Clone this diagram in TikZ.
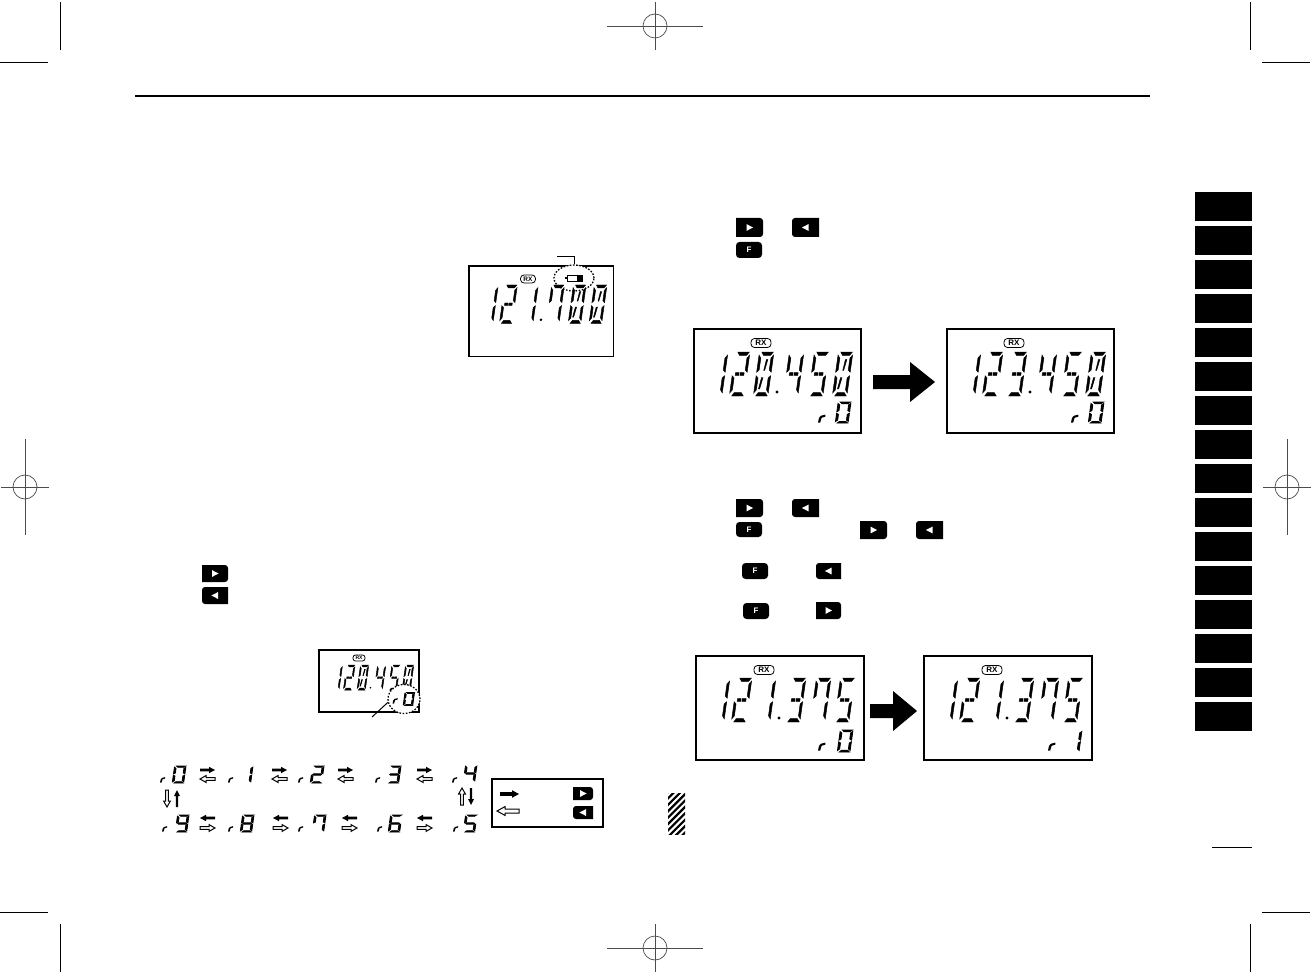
\documentclass[tikz,border=0pt]{standalone}
\usepackage{fontspec}
\setmainfont{Liberation Sans}
\usetikzlibrary{shapes.geometric}
\tikzset{
  lcdseg/.style={fill=black,draw=none},
  boldseg/.style={draw=black,line width=.85pt},
  dispseg/.style={draw=black,line width=.45pt},
  lcdframe/.style={draw=black,line width=1.5pt,inner sep=0pt,outer sep=0pt,anchor=north west,fill=white},
  rxbadge/.style={draw=black,line width=.8pt,rounded corners=3.5pt,inner sep=0pt,font=\bfseries\fontsize{8}{8}\selectfont},
  keylabel/.style={text=white,inner sep=0pt,font=\bfseries\fontsize{8}{8}\selectfont},
  blackarrow/.style={fill=black,draw=none},
  whitearrow/.style={fill=white,draw=black,line width=1pt},
  crop/.style={draw=black,line width=.9pt},
  regline/.style={draw=black!70,line width=.7pt},
  dotring/.style={ellipse,draw=black,fill=white,line width=1.3pt,dash pattern=on 1.6pt off 1.6pt,inner sep=0pt}
}
\newcommand\lcdsega{(1.8,0)--(9.6,0)--(8,1.5)--(3.2,1.5)--cycle}
\newcommand\lcdsegf{(0.2,1.4)--(1.7,2.8)--(1.7,8.2)--(0.2,9.2)--cycle}
\newcommand\lcdsegb{(10,1.4)--(10,9.2)--(8.5,8.2)--(8.5,2.8)--cycle}
\newcommand\lcdsege{(0.2,10.8)--(1.7,11.8)--(1.7,17.2)--(0.2,18.6)--cycle}
\newcommand\lcdsegc{(10,10.8)--(10,18.6)--(8.5,17.2)--(8.5,11.8)--cycle}
\newcommand\lcdsegd{(3.2,18.5)--(8,18.5)--(9.6,20)--(1.8,20)--cycle}
\newcommand\lcdsegg{(2,9.2)--(8.2,9.2)--(8.8,10)--(8.2,10.8)--(2,10.8)--(1.4,10)--cycle}
\newcommand\lcdsegh{(2.2,9.4)--(4.6,9.4)--(4.6,10.6)--(2.2,10.6)--cycle}
\newcommand\lcdsegi{(5.4,9.4)--(8,9.4)--(8,10.6)--(5.4,10.6)--cycle}
\newcommand\lcdsegj{(5.6,3.4)--(6.6,3.4)--(5.4,8.4)--(4.8,8.4)--cycle}
\newcommand\lcdsegk{(4,11.6)--(5,11.6)--(3.8,16.8)--(3,16.8)--cycle}
% \lcd[opts]{left}{top}{width}{height}{segments}
\newcommand\lcd[6][]{%
  \pgfmathsetmacro\lcdsx{(#4-0.14*#5)/10}%
  \pgfmathsetmacro\lcdsy{#5/20}%
  \pgfmathsetmacro\lcdox{#2+0.14*#5}%
  \begin{scope}[shift={(\lcdox,#3)},xslant=0.14,xscale=\lcdsx,yscale=\lcdsy]
    \foreach \lcdname in {#6}{%
      \expandafter\let\expandafter\lcdtmp\csname lcdseg\lcdname\endcsname
      \path[lcdseg,#1] \lcdtmp;}
  \end{scope}}
% \lcdfreq{left}{top}{scale}{d3}{d4}{d5}{d6}, the first two digits are always 1 and 2
\newcommand\lcdfreq[7]{%
  \begin{scope}[shift={(#1,#2)}]
    \lcd[dispseg]{0}{0}{21*#3}{44*#3}{b,c}
    \lcd[dispseg]{22*#3}{0}{21*#3}{44*#3}{a,b,h,i,e,d}
    \lcd[dispseg]{46*#3}{0}{21*#3}{44*#3}{#4}
    \fill ({70*#3},{40*#3}) circle ({1.6*#3});
    \lcd[dispseg]{76*#3}{0}{21*#3}{44*#3}{#5}
    \lcd[dispseg]{101*#3}{0}{21*#3}{44*#3}{#6}
    \lcd[dispseg]{125*#3}{0}{21*#3}{44*#3}{#7}
  \end{scope}}
\newcommand\lcdr[3]{%
  \begin{scope}[shift={(#1,#2)},scale=#3]
    \fill (0,9.5)--(1,5)--(2.8,2.8)--(7.4,1.6)--(7.4,3.6)--(3.6,4.8)--(2.2,9.5)--cycle;
  \end{scope}}
% \blockarrow{style}{x}{y}{rotation}{length}{shaft half}{head half}{head length}
\newcommand\blockarrow[8]{%
  \begin{scope}[shift={(#2,#3)},rotate=#4]
    \path[#1] (0,-#6)--({#5-#8},-#6)--({#5-#8},-#7)--(#5,0)--({#5-#8},#7)--({#5-#8},#6)--(0,#6)--cycle;
  \end{scope}}
\newcommand\lcdbox[5]{\node[lcdframe,minimum width={#4-#2},minimum height={#5-#3}] (#1) at (#2,#3) {};}
\newcommand\keyright[4]{%
  \fill ({#1},{#2}) -- ({(#1+#3)/2},{#2}) [rounded corners=3pt] -- ({#3},{#2}) -- ({#3},{#4}) -- ({(#1+#3)/2},{#4}) [sharp corners] -- ({#1},{#4}) -- cycle;
  \fill[white] ({(#1+#3)/2-3},{(#2+#4)/2-3.4}) -- ({(#1+#3)/2+3.6},{(#2+#4)/2}) -- ({(#1+#3)/2-3},{(#2+#4)/2+3.4}) -- cycle;}
\newcommand\keyleft[4]{%
  \fill ({#3},{#2}) -- ({(#1+#3)/2},{#2}) [rounded corners=3pt] -- ({#1},{#2}) -- ({#1},{#4}) -- ({(#1+#3)/2},{#4}) [sharp corners] -- ({#3},{#4}) -- cycle;
  \fill[white] ({(#1+#3)/2+3},{(#2+#4)/2-3.4}) -- ({(#1+#3)/2-3.6},{(#2+#4)/2}) -- ({(#1+#3)/2+3},{(#2+#4)/2+3.4}) -- cycle;}
\newcommand\keyf[5]{%
  \fill[rounded corners=3.5pt] (#2,#3) rectangle (#4,#5);
  \node[keylabel] (#1) at ({(#2+#4)/2},{(#3+#5)/2}) {F};}
% \regmark{x}{y}{half width}{half height}
\newcommand\regmark[4]{%
  \draw[regline] (#1,#2) circle (12);
  \draw[regline] ({#1-#3},#2) -- ({#1+#3},#2);
  \draw[regline] (#1,{#2-#4}) -- (#1,{#2+#4});}
\begin{document}
\begin{tikzpicture}[x=1pt,y=-1pt]
\useasboundingbox (0,0) rectangle (1311,973);
\fill[white] (0,0) rectangle (1311,973);
% crop marks
\draw[crop] (60.5,2) -- (60.5,50);
\draw[crop] (0,62) -- (48,62);
\draw[crop] (1250.5,2) -- (1250.5,50);
\draw[crop] (1262,62) -- (1310,62);
\draw[crop] (60.5,924) -- (60.5,972);
\draw[crop] (0,912) -- (48,912);
\draw[crop] (1250.5,924) -- (1250.5,972);
\draw[crop] (1262,912) -- (1310,912);
\regmark{655}{26}{48}{24}
\regmark{655}{948}{48}{24}
\regmark{25}{487}{24}{48}
\regmark{1287}{487}{24}{48}
% header rule, tabs, page rule
\draw[line width=1.6pt] (135,96) -- (1150,96);
\foreach \tabi in {0,...,15}{\fill (1195,{192.5+33.97*\tabi}) rectangle (1252,{221+33.97*\tabi});}
\draw[line width=1pt] (1212,847) -- (1252,847);

% display with battery icon
\lcdbox{boxa}{469}{266}{613.5}{356.5}
\node[dotring,minimum width=40pt,minimum height=26pt] (batring) at (574,278) {};
\coordinate (batlead) at (557,256);
\draw[line width=.9pt] (batlead) -| (batring.north);
\node[rxbadge,minimum width=15pt,minimum height=8pt,font=\bfseries\fontsize{6.5}{6.5}\selectfont] (rxa) at (528,279) {RX};
\draw[line width=.6pt] (567,275.5) rectangle (582,281.5);
\fill (565,277.5) rectangle (567,279.5);
\fill (577,275) rectangle (582,282);
\lcdfreq{480}{285}{0.87}{b,c}{a,f,b,c}{a,b,c,d,e,f,j,k}{a,b,c,d,e,f,j,k}

% keys, upper left text block
\keyright{202}{565}{228}{582}
\keyleft{202}{587}{228}{604}

% small display
\lcdbox{boxs}{319}{650}{419}{712}
\node[rxbadge,minimum width=12pt,minimum height=6pt,font=\bfseries\fontsize{5}{5}\selectfont,rounded corners=2.5pt] (rxs) at (359,658) {RX};
\lcdfreq{330.6}{665}{0.57}{a,b,c,d,e,f,j,k}{f,h,i,b,c}{a,f,h,i,c,d}{a,b,c,d,e,f,j,k}
\node[dotring,minimum width=32pt,minimum height=29pt] (zring) at (404,699) {};
\coordinate (zlead) at (372,717);
\draw[line width=1pt] (zlead) -- (zring.192);
\lcdr{392.5}{697}{0.7}
\lcd[boldseg]{403}{692.5}{11.5}{13}{a,b,c,d,e,f}

% channel sequence
\lcdr{160}{776}{0.7}\lcd[boldseg]{172}{766}{14}{17}{a,b,c,d,e,f}
\lcdr{228}{776}{0.7}\lcd[boldseg]{239}{766}{14}{17}{b,c}
\lcdr{298}{776}{0.7}\lcd[boldseg]{310}{766}{14}{17}{a,b,g,e,d}
\lcdr{375}{776}{0.7}\lcd[boldseg]{387}{766}{14}{17}{a,b,g,c,d}
\lcdr{452}{776}{0.7}\lcd[boldseg]{463}{765}{14}{17}{f,g,b,c}
\lcdr{162}{825}{0.7}\lcd[boldseg]{175}{815}{14}{17}{a,f,b,g,c,d}
\lcdr{228}{825}{0.7}\lcd[boldseg]{240}{815}{14}{17}{a,b,c,d,e,f,g}
\lcdr{298}{825}{0.7}\lcd[boldseg]{312}{815}{14}{17}{a,f,b,c}
\lcdr{377}{825}{0.7}\lcd[boldseg]{388}{815}{14}{17}{a,f,g,c,d,e}
\lcdr{453}{825}{0.7}\lcd[boldseg]{463}{815}{14}{17}{a,f,g,c,d}
\foreach \ax in {200,272,338,417}{
  \blockarrow{blackarrow}{\ax}{770}{0}{15}{1.4}{3.2}{6}
  \blockarrow{whitearrow}{\ax+15}{779}{180}{15}{1.4}{3.4}{6}
}
\foreach \ax in {200,273,342,417}{
  \blockarrow{blackarrow}{\ax+15}{818}{180}{15}{1.4}{3.2}{6}
  \blockarrow{whitearrow}{\ax}{828}{0}{15}{1.4}{3.4}{6}
}
\blockarrow{whitearrow}{167}{790}{-90}{17}{1.4}{3.4}{6}
\blockarrow{blackarrow}{177}{807}{90}{17}{1.2}{3}{6}
\blockarrow{whitearrow}{462}{805}{90}{17}{1.4}{3.4}{6}
\blockarrow{blackarrow}{471}{788}{-90}{17}{1.2}{3}{6}

% legend box
\lcdbox{legend}{492}{779}{603}{827}
\blockarrow{blackarrow}{500}{794}{0}{19}{1.8}{3.8}{7}
\blockarrow{whitearrow}{519}{811}{180}{22}{2}{4.4}{8}
\keyright{573}{787}{593}{800}
\keyleft{573}{806}{593}{819}

% first pair of displays
\lcdbox{boxb}{694}{329}{861}{433}
\lcdbox{boxc}{947}{329}{1114}{433}
\node[rxbadge,minimum width=20pt,minimum height=9pt] (rxb) at (761,343) {RX};
\node[rxbadge,minimum width=20pt,minimum height=9pt] (rxc) at (1014,343) {RX};
\lcdfreq{707}{352}{1}{a,b,c,d,e,f,j,k}{f,h,i,b,c}{a,f,h,i,c,d}{a,b,c,d,e,f,j,k}
\lcdfreq{960}{352}{1}{a,b,h,i,c,d}{f,h,i,b,c}{a,f,h,i,c,d}{a,b,c,d,e,f,j,k}
\lcdr{818}{413}{1}\lcd[boldseg]{835}{402}{16}{21}{a,b,c,d,e,f}
\lcdr{1071}{413}{1}\lcd[boldseg]{1088}{402}{16}{21}{a,b,c,d,e,f}
\blockarrow{blackarrow}{873}{382}{0}{62}{7}{20}{25}

% keys, right column
\keyright{736}{218}{763}{237}
\keyleft{792}{218}{819}{237}
\keyf{keyf1}{736}{242}{762}{258}
\keyright{736}{499}{763}{517}
\keyleft{792}{499}{819}{517}
\keyf{keyf2}{736}{522}{762}{537}
\keyright{860}{521}{887}{539}
\keyleft{916}{521}{943}{539}
\keyf{keyf3}{742}{563}{768}{579}
\keyleft{816}{563}{841}{579}
\keyf{keyf4}{743}{603}{769}{619}
\keyright{816}{602}{841}{619}

% second pair of displays
\lcdbox{boxd}{696}{656}{864}{760}
\lcdbox{boxe}{924}{656}{1092}{760}
\node[rxbadge,minimum width=20pt,minimum height=9pt] (rxd) at (764,670) {RX};
\node[rxbadge,minimum width=20pt,minimum height=9pt] (rxe) at (992,670) {RX};
\lcdfreq{709}{678}{1}{b,c}{a,b,h,i,c,d}{a,f,b,c}{a,f,h,i,c,d}
\lcdfreq{937}{678}{1}{b,c}{a,b,h,i,c,d}{a,f,b,c}{a,f,h,i,c,d}
\lcdr{818}{741}{1}\lcd[boldseg]{837}{730}{16}{22}{a,b,c,d,e,f}
\lcdr{1048}{741}{1}\lcd[boldseg]{1066}{730}{16}{22}{b,c}
\blockarrow{blackarrow}{870}{711}{0}{47}{7}{20}{24}

% hatched note mark
\begin{scope}
  \clip (668,793) rectangle (685,834);
  \foreach \hi in {0,...,10}{\draw[line width=2.2pt] (660,{800+6.4*\hi}) -- (690,{770+6.4*\hi});}
\end{scope}
\end{tikzpicture}
\end{document}
